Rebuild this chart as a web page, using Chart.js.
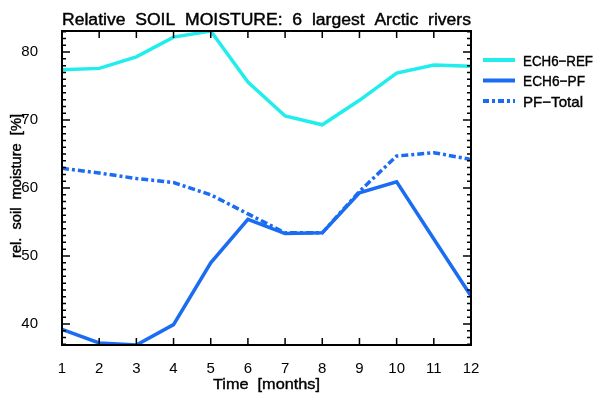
<!DOCTYPE html>
<html>
<head>
<meta charset="utf-8">
<script src="https://cdn.jsdelivr.net/npm/chart.js@4.4.1/dist/chart.umd.min.js"></script>
<style>
  html, body { margin: 0; padding: 0; background: #fff; }
  #wrap { width: 595px; height: 397px; }
</style>
</head>
<body>
<div id="wrap"><canvas id="moisture" width="595" height="397"></canvas></div>
<script>
// Monthly relative soil moisture, 6 largest Arctic rivers
const months = [1, 2, 3, 4, 5, 6, 7, 8, 9, 10, 11, 12];
const ech6Ref = [77.4, 77.6, 79.3, 82.2, 83.1, 75.6, 70.6, 69.3, 72.9, 76.9, 78.1, 77.9];
const ech6Pf = [39.2, 37.2, 36.9, 39.9, 49.0, 55.4, 53.3, 53.4, 59.3, 60.9, 52.5, 44.1];
const pfTotal = [62.9, 62.2, 61.4, 60.8, 59.0, 56.2, 53.4, 53.4, 59.5, 64.7, 65.2, 64.2];
const yTicks = [40, 50, 60, 70, 80];

const titleText = 'Relative  SOIL  MOISTURE:  6  largest  Arctic  rivers';
const xTitle = 'Time  [months]';
const yTitle = 'rel.  soil  moisture  [%]';
const cyan = '#22eded';
const blue = '#1a6cf2';
const fontFam = '"Liberation Sans", Arial, sans-serif';

const toPts = vals => vals.map((v, i) => ({ x: months[i], y: v }));

// writes text squeezed or stretched to a given width, with a thin outline for weight
function fitText(ctx, text, x, y, width, size) {
    ctx.font = size + 'px ' + fontFam;
    const w = ctx.measureText(text).width;
    ctx.save();
    ctx.translate(x, y);
    ctx.scale(width / w, 1);
    ctx.fillText(text, 0, 0);
    ctx.strokeStyle = ctx.fillStyle;
    ctx.lineWidth = 0.4;
    ctx.setLineDash([]);
    ctx.strokeText(text, 0, 0);
    ctx.restore();
}

// frame, tick marks, titles and legend
const framePlugin = {
    id: 'frame',
    afterDraw(chart) {
        const { ctx, chartArea: a, scales } = chart;
        const xs = scales.x, ys = scales.y;
        ctx.save();
        ctx.strokeStyle = '#000';
        ctx.lineWidth = 2;
        ctx.strokeRect(a.left, a.top, a.right - a.left, a.bottom - a.top);

        ctx.lineWidth = 1.5;
        ctx.beginPath();
        months.forEach(m => {
            const px = xs.getPixelForValue(m);
            ctx.moveTo(px, a.bottom); ctx.lineTo(px, a.bottom - 7);
            ctx.moveTo(px, a.top); ctx.lineTo(px, a.top + 7);
        });
        for (let v = Math.ceil(ys.min); v <= ys.max; v++) {
            const py = ys.getPixelForValue(v);
            const len = v % 10 === 0 ? 8 : 4;
            ctx.moveTo(a.left, py); ctx.lineTo(a.left + len, py);
            ctx.moveTo(a.right, py); ctx.lineTo(a.right - len, py);
        }
        ctx.stroke();

        ctx.fillStyle = '#000';
        ctx.textBaseline = 'alphabetic';
        fitText(ctx, titleText, a.left, 25, a.right - a.left, 16);
        fitText(ctx, xTitle, 213, 389, 107, 15);

        ctx.save();
        ctx.translate(21, 258);
        ctx.rotate(-Math.PI / 2);
        fitText(ctx, yTitle, 0, 0, 144, 14.5);
        ctx.restore();

        // legend
        const items = [
            { label: 'ECH6\u2212REF', color: cyan, dash: [], w: 70 },
            { label: 'ECH6\u2212PF', color: blue, dash: [], w: 62 },
            { label: 'PF\u2212Total', color: blue, dash: [6, 3, 3, 3], w: 60 }
        ];
        items.forEach((it, i) => {
            const y = 60 + i * 20.5;
            ctx.strokeStyle = it.color;
            ctx.lineWidth = 4;
            ctx.setLineDash(it.dash);
            ctx.beginPath();
            ctx.moveTo(483, y); ctx.lineTo(515, y);
            ctx.stroke();
            ctx.setLineDash([]);
            ctx.fillStyle = '#000';
            fitText(ctx, it.label, 523, y + 5.5, it.w, 15);
        });
        ctx.restore();
    }
};

new Chart(document.getElementById('moisture'), {
    type: 'line',
    data: {
        datasets: [
            { label: 'ECH6-REF', data: toPts(ech6Ref), borderColor: cyan, borderWidth: 3.5 },
            { label: 'ECH6-PF', data: toPts(ech6Pf), borderColor: blue, borderWidth: 3.5 },
            { label: 'PF-Total', data: toPts(pfTotal), borderColor: blue, borderWidth: 3.5, borderDash: [7, 3, 3, 3] }
        ]
    },
    options: {
        responsive: false,
        animation: false,
        layout: { padding: { left: 0, top: 31, right: 124, bottom: 0 } },
        elements: { point: { radius: 0 }, line: { tension: 0 } },
        plugins: { legend: { display: false }, tooltip: { enabled: false } },
        scales: {
            x: {
                type: 'linear', min: 1, max: 12,
                grid: { display: false },
                border: { display: false },
                afterBuildTicks: s => { s.ticks = months.map(v => ({ value: v })); },
                afterFit: s => { s.height = 52; },
                ticks: { color: '#000', font: { family: fontFam, size: 15 }, padding: 7, maxRotation: 0 }
            },
            y: {
                type: 'linear', min: 36.9, max: 83.1,
                grid: { display: false },
                border: { display: false },
                afterBuildTicks: s => { s.ticks = yTicks.map(v => ({ value: v })); },
                afterFit: s => { s.width = 62; },
                ticks: { color: '#000', font: { family: fontFam, size: 15 }, padding: 16 }
            }
        }
    },
    plugins: [framePlugin]
});
</script>
</body>
</html>
